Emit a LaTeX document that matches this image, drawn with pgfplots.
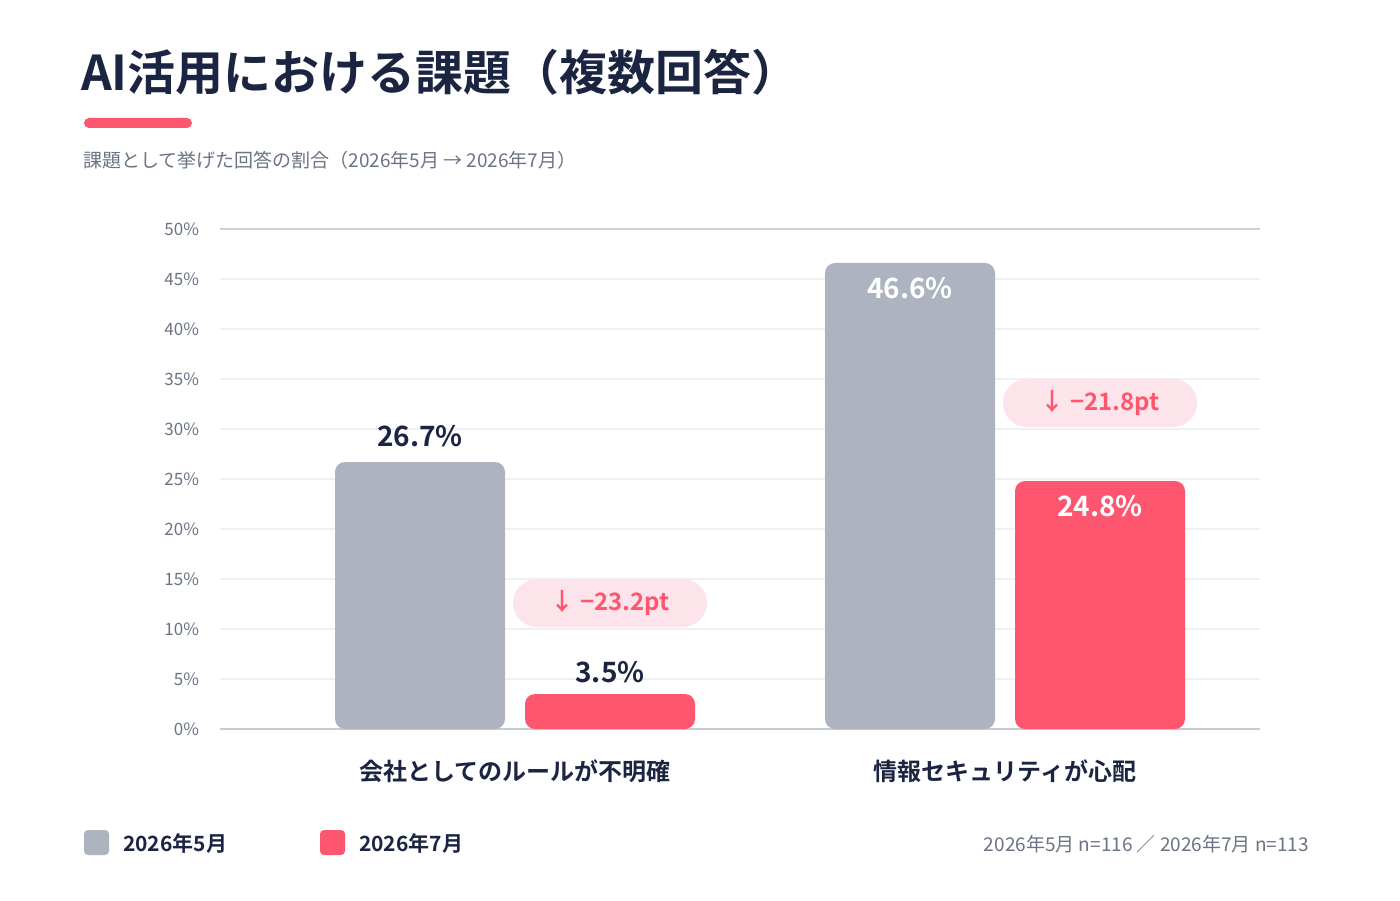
\documentclass[border=0pt]{standalone}
\usepackage{pgfplots}
\pgfplotsset{compat=1.18}
\usepackage{fontspec}
\setmainfont{Noto Sans CJK JP}[BoldFont={Noto Sans CJK JP Bold}]
\definecolor{navy}{HTML}{1B2542}
\definecolor{gbar}{HTML}{ADB3BF}
\definecolor{rbar}{HTML}{FF5670}
\definecolor{pill}{HTML}{FDE4EA}
\definecolor{txtg}{HTML}{6B7386}
\definecolor{gridc}{HTML}{EEF0F3}
\begin{document}
\begin{tikzpicture}[x=1pt,y=1pt]
\fill[white] (0,0) rectangle (700,450);
% title
\node[anchor=west,text=navy,font=\bfseries\fontsize{24}{28}\selectfont] at (37,414) {AI活用における課題（複数回答）};
\fill[rbar,rounded corners=2.5pt] (42,386) rectangle (96,391);
\node[anchor=west,text=txtg,font=\fontsize{9.5}{11}\selectfont] at (38,370) {課題として挙げた回答の割合（2026年5月 → 2026年7月）};
\begin{axis}[at={(110pt,85.5pt)},anchor=origin,scale only axis,width=520pt,height=250pt,
  xmin=0,xmax=1040,ymin=0,ymax=50,
  axis line style={draw=none},
  ytick={0,5,...,50},yticklabel={\pgfmathprintnumber{\tick}\%},
  /pgf/number format/assume math mode=true,
  yticklabel style={text=txtg,font=\fontsize{8.5}{10}\selectfont,xshift=-7pt},
  ymajorgrids,grid style={gridc,line width=0.6pt},
  major tick length=0,
  xtick={295,785},xticklabels={会社としてのルールが不明確,情報セキュリティが心配},
  xticklabel style={text=navy,font=\bfseries\fontsize{12}{14}\selectfont,yshift=-12pt},
  ybar,bar width=85pt,bar shift=0pt,
  clip=false]
\draw[gbar!70,line width=0.8pt] (axis cs:0,0) -- (axis cs:1040,0);
\draw[gbar!60,line width=0.8pt] (axis cs:0,50) -- (axis cs:1040,50);
\addplot[fill=gbar,draw=none,rounded corners=5pt] coordinates {(200,26.7) (690,46.6)};
\addplot[fill=rbar,draw=none,rounded corners=5pt] coordinates {(390,3.5) (880,24.8)};
\coordinate (l1) at (axis cs:200,29.3);
\coordinate (l2) at (axis cs:390,5.7);
\coordinate (l3) at (axis cs:690,44.1);
\coordinate (l4) at (axis cs:880,22.3);
\coordinate (p1) at (axis cs:390,12.6);
\coordinate (p2) at (axis cs:880,32.6);
\end{axis}
\node[text=navy,font=\bfseries\fontsize{14}{16}\selectfont] at (l1) {26.7\%};
\node[text=navy,font=\bfseries\fontsize{14}{16}\selectfont] at (l2) {3.5\%};
\node[text=white,font=\bfseries\fontsize{14}{16}\selectfont] at (l3) {46.6\%};
\node[text=white,font=\bfseries\fontsize{14}{16}\selectfont] at (l4) {24.8\%};
\node[fill=pill,text=rbar,rounded corners=12pt,minimum width=97pt,minimum height=24pt,font=\bfseries\fontsize{12}{14}\selectfont] at (p1) {↓ −23.2pt};
\node[fill=pill,text=rbar,rounded corners=12pt,minimum width=97pt,minimum height=24pt,font=\bfseries\fontsize{12}{14}\selectfont] at (p2) {↓ −21.8pt};
% legend
\fill[gbar,rounded corners=2pt] (42,22.5) rectangle (54.5,35);
\node[anchor=west,text=navy,font=\bfseries\fontsize{10.5}{12}\selectfont] at (58,28.5) {2026年5月};
\fill[rbar,rounded corners=2pt] (160,22.5) rectangle (172.5,35);
\node[anchor=west,text=navy,font=\bfseries\fontsize{10.5}{12}\selectfont] at (176,28.5) {2026年7月};
\node[anchor=east,text=txtg,font=\fontsize{9.5}{11}\selectfont] at (658,28) {2026年5月 n=116 ／ 2026年7月 n=113};
\end{tikzpicture}
\end{document}
